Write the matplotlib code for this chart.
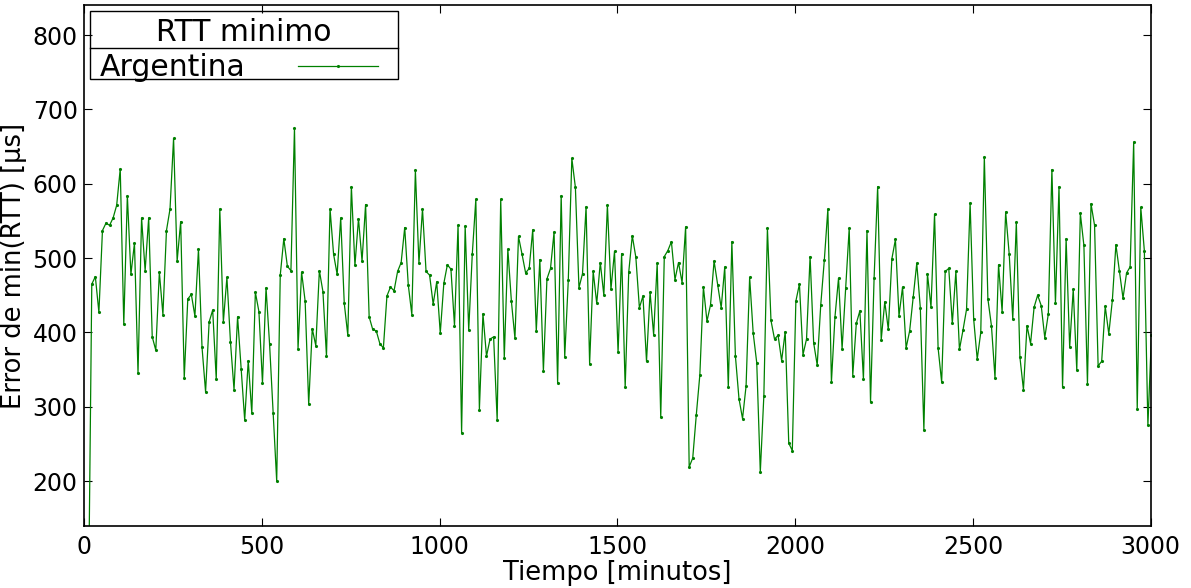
import matplotlib
matplotlib.use("Agg")
import matplotlib.pyplot as plt
from matplotlib.lines import Line2D
from matplotlib.patches import Rectangle
from matplotlib.legend_handler import HandlerLine2D
import numpy as np

# error de min(RTT) en microsegundos, una muestra cada 10 minutos
rtt_argentina = [
    0, 465, 475, 427, 537, 547, 544, 554, 571, 620, 411, 584, 478, 520, 345, 554, 483, 554, 394, 376,
    481, 424, 537, 566, 661, 496, 549, 339, 445, 451, 422, 512, 380, 320, 414, 430, 337, 566, 414, 474,
    387, 323, 421, 351, 282, 362, 291, 454, 428, 332, 460, 384, 291, 200, 477, 526, 489, 483, 675, 378,
    481, 442, 303, 405, 382, 483, 455, 368, 566, 505, 478, 554, 439, 396, 596, 490, 553, 496, 572, 421,
    404, 402, 385, 379, 449, 461, 456, 482, 494, 541, 464, 424, 618, 493, 566, 482, 477, 438, 468, 399,
    466, 491, 485, 409, 544, 265, 543, 403, 505, 579, 296, 425, 368, 391, 394, 282, 579, 366, 512, 442,
    392, 529, 505, 480, 486, 538, 402, 498, 348, 472, 486, 535, 332, 584, 367, 470, 634, 595, 460, 479,
    569, 358, 482, 439, 494, 450, 571, 458, 509, 373, 506, 326, 481, 530, 501, 433, 449, 361, 454, 397,
    493, 286, 502, 510, 522, 471, 494, 467, 542, 219, 231, 289, 343, 461, 415, 437, 496, 464, 433, 488,
    326, 522, 368, 311, 284, 328, 474, 399, 359, 212, 315, 540, 416, 391, 396, 362, 401, 251, 241, 442,
    465, 370, 391, 502, 386, 356, 437, 497, 566, 333, 421, 473, 378, 460, 540, 342, 412, 429, 337, 537,
    306, 473, 596, 390, 441, 404, 499, 525, 422, 461, 379, 402, 447, 493, 433, 269, 479, 434, 559, 379,
    333, 482, 486, 412, 482, 377, 403, 431, 574, 418, 364, 400, 636, 445, 409, 339, 491, 428, 562, 505,
    418, 548, 367, 323, 409, 385, 434, 450, 436, 393, 425, 619, 439, 596, 326, 526, 380, 458, 349, 560,
    517, 331, 573, 544, 355, 361, 435, 398, 443, 518, 482, 446, 480, 488, 656, 297, 568, 510, 275, 396,
]
t_inicio = 12
paso = 10
tiempo = t_inicio + paso * np.arange(len(rtt_argentina))

plt.rcParams["font.family"] = "DejaVu Sans"


class HandlerCorto(HandlerLine2D):
    # la linea ocupa solo parte del hueco, deja margen a la derecha
    def create_artists(self, legend, orig_handle, xdescent, ydescent, width, height, fontsize, trans):
        return super().create_artists(legend, orig_handle, xdescent, ydescent,
                                      width * 0.89, height, fontsize, trans)


fig = plt.figure(figsize=(11.91, 5.88), dpi=100)
ax = fig.add_axes([0.0705, 0.106, 0.8957, 0.885])

linea, = ax.plot(tiempo, rtt_argentina, color="g", lw=0.9, marker=".", markersize=2.5,
                 label="Argentina")

ax.set_xlim(0, 3000)
ax.set_ylim(140, 840)
ax.set_xticks(range(0, 3001, 500))
ax.set_yticks(range(200, 801, 100))
ax.tick_params(direction="in", length=6, width=0.8, top=True, right=True, labelsize=17)
ax.tick_params(axis="x", pad=6.5)
ax.tick_params(axis="y", pad=4.5)
for s in ax.spines.values():
    s.set_linewidth(1.2)

ax.set_xlabel("Tiempo [minutos]", fontsize=18.5, labelpad=1)
ax.set_ylabel("Error de min(RTT) [µs]", fontsize=18.5, labelpad=4)

leg = ax.legend(title="RTT minimo", loc="upper left", fontsize=21.5, title_fontsize=21.5,
                markerfirst=False, handlelength=3.0, handletextpad=1.75, numpoints=1,
                frameon=False, borderpad=0, labelspacing=0.2, borderaxespad=0,
                bbox_to_anchor=(100 / 1191, 1 - 18 / 588), bbox_transform=fig.transFigure,
                handler_map={linea: HandlerCorto()})

# marco de la leyenda y linea que separa el titulo
fig.canvas.draw()
r = fig.canvas.get_renderer()
lb = leg.get_window_extent(r)
tb = leg.get_title().get_window_extent(r)
inv = fig.transFigure.inverted()
(x0, y0) = inv.transform((lb.x0 - 10, lb.y0 + 3))
(x1, _) = inv.transform((lb.x1 + 10, lb.y1))
y1 = 1 - 11 / 588
fig.add_artist(Rectangle((x0, y0), x1 - x0, y1 - y0, fill=False, edgecolor="black",
                         lw=1.0, transform=fig.transFigure, zorder=6))
(_, ys) = inv.transform((0, tb.y0 - 1))
fig.add_artist(Line2D([x0, x1], [ys, ys], color="black", lw=1.0,
                      transform=fig.transFigure, zorder=6))

fig.savefig("out.png", dpi=100)
